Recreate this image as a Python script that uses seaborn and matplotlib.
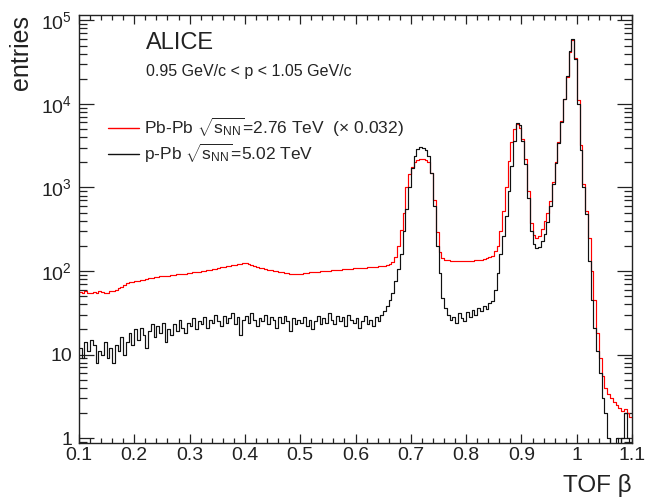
import numpy as np
import pandas as pd
import matplotlib
matplotlib.use("Agg")
import matplotlib.pyplot as plt
from matplotlib.ticker import MultipleLocator, FixedLocator, LogLocator, NullFormatter
import seaborn as sns

# --- data: TOF beta histogram, 200 bins of 0.005 between 0.1 and 1.1
beta_edges = np.linspace(0.1, 1.1, 201)
beta_centers = 0.5 * (beta_edges[:-1] + beta_edges[1:])

# Pb-Pb sqrt(sNN)=2.76 TeV, already scaled by 0.032
pbpb_scaled = [
    56, 55, 57, 55, 54, 56, 55, 57, 56, 54,
    55, 57, 58, 60, 62, 64, 68, 72, 74, 73,
    75, 76, 78, 79, 80, 82, 83, 84, 85, 86,
    87, 88, 88, 90, 89, 91, 92, 93, 93, 94,
    95, 96, 97, 98, 99, 100, 102, 103, 105, 107,
    109, 111, 112, 114, 115, 117, 118, 120, 121, 123,
    124, 121, 118, 115, 112, 110, 108, 106, 104, 102,
    100, 99, 97, 96, 95, 94, 93, 92, 91, 92,
    93, 94, 95, 96, 97, 98, 98, 99, 100, 101,
    101, 102, 103, 104, 104, 105, 106, 107, 107, 108,
    108, 109, 109, 110, 111, 111, 112, 113, 114, 115,
    116, 117, 120, 128, 147, 200, 310, 500, 1000, 1450,
    1750, 2000, 2150, 2200, 2200, 2150, 2000, 1500, 700, 290,
    170, 142, 136, 134, 133, 132, 132, 131, 131, 132,
    132, 133, 133, 134, 135, 137, 139, 142, 146, 152,
    175, 200, 300, 520, 1000, 2100, 3500, 5000, 5800, 5200,
    3800, 2200, 900, 380, 270, 250, 265, 320, 400, 500,
    680, 1150, 2000, 3500, 6200, 11500, 21000, 42000, 58000, 35000,
    11000, 3200, 1100, 520, 250, 100, 45, 18, 9, 5.5,
    4, 3.4, 3, 2.7, 2.5, 2.3, 2.1, 2.2, 2.0, 1.8,
]

# p-Pb sqrt(sNN)=5.02 TeV
ppb = [
    12, 9, 14, 11, 15, 13, 8, 11, 10, 14,
    9, 12, 8, 13, 11, 16, 10, 14, 18, 13,
    20, 15, 21, 17, 12, 19, 23, 16, 22, 18,
    24, 14, 20, 17, 23, 19, 26, 21, 18, 24,
    22, 27, 20, 25, 23, 28, 21, 26, 24, 30,
    25, 22, 29, 24, 27, 31, 23, 28, 17, 26,
    29, 24, 31, 26, 22, 27, 25, 30, 23, 28,
    26, 21, 28, 24, 29, 25, 19, 27, 23, 26,
    24, 28, 22, 26, 20, 25, 29, 23, 27, 24,
    31, 26, 23, 29, 25, 28, 22, 30, 26, 24,
    27, 21, 25, 29, 23, 26, 22, 28, 25, 30,
    33, 38, 45, 55, 75, 105, 160, 300, 550, 1000,
    1700, 2400, 2850, 3050, 3000, 2800, 2400, 1500, 600, 200,
    95, 48, 36, 30, 26, 28, 24, 31, 27, 25,
    32, 28, 34, 30, 36, 33, 38, 35, 41, 44,
    60, 95, 160, 260, 450, 900, 1800, 3600, 5900, 5600,
    3600, 1900, 750, 300, 210, 190, 195, 230, 280, 390,
    600, 1100, 1950, 3400, 6100, 11500, 21500, 43000, 59000, 34000,
    10000, 2800, 1000, 480, 130, 45, 21, 11, 6, 3,
    2, 1, 0, 0, 1, 0, 1, 2, 1, 0,
]

label_pbpb = r"Pb-Pb $\sqrt{\mathrm{s}_{\mathrm{NN}}}$=2.76 TeV  ($\times$ 0.032)"
label_ppb = r"p-Pb $\sqrt{\mathrm{s}_{\mathrm{NN}}}$=5.02 TeV"

y_ticks = [1, 10, 100, 1000, 10000, 100000]
y_ticklabels = ["1", "10", r"$10^{2}$", r"$10^{3}$", r"$10^{4}$", r"$10^{5}$"]
x_ticks = [0.1, 0.2, 0.3, 0.4, 0.5, 0.6, 0.7, 0.8, 0.9, 1.0, 1.1]
x_ticklabels = ["0.1", "0.2", "0.3", "0.4", "0.5", "0.6", "0.7", "0.8", "0.9", "1", "1.1"]

df = pd.DataFrame({"beta": beta_centers, "pbpb": pbpb_scaled, "ppb": ppb})

sns.set_theme(style="ticks")
plt.rcParams["font.family"] = ["Liberation Sans", "DejaVu Sans"]
plt.rcParams["mathtext.fontset"] = "custom"
plt.rcParams["mathtext.rm"] = "Liberation Sans"
plt.rcParams["mathtext.it"] = "Liberation Sans:italic"
plt.rcParams["mathtext.bf"] = "Liberation Sans:bold"

fig = plt.figure(figsize=(6.47, 4.99), dpi=100)
ax = fig.add_axes([0.122, 0.112, 0.855, 0.858])

sns.histplot(data=df, x="beta", weights="pbpb", bins=list(beta_edges),
             element="step", fill=False, color="#ff0000", linewidth=0.85,
             ax=ax, label=label_pbpb)
sns.histplot(data=df, x="beta", weights="ppb", bins=list(beta_edges),
             element="step", fill=False, color="#111111", linewidth=0.85,
             ax=ax, label=label_ppb)

ax.set_yscale("log")
ax.set_xlim(0.1, 1.1)
ax.set_ylim(0.87, 1.16e5)

# --- ticks, ROOT style
ax.xaxis.set_major_locator(FixedLocator(x_ticks))
ax.set_xticklabels(x_ticklabels)
ax.xaxis.set_minor_locator(MultipleLocator(0.02))
ax.yaxis.set_major_locator(FixedLocator(y_ticks))
ax.set_yticklabels(y_ticklabels)
ax.yaxis.set_minor_locator(LogLocator(base=10, subs=np.arange(2, 10)))
ax.yaxis.set_minor_formatter(NullFormatter())

ax.tick_params(which="both", direction="in", top=True, right=True,
               colors="#222222", labelsize=14, width=0.9)
ax.tick_params(axis="x", which="major", length=6.5, pad=3)
ax.tick_params(axis="x", which="minor", length=3.3)
ax.tick_params(axis="y", which="major", length=11, pad=5)
ax.tick_params(axis="y", which="minor", length=5.5)
for sp in ax.spines.values():
    sp.set_linewidth(1.0)
    sp.set_color("#222222")

ax.set_xlabel("TOF β", loc="right", fontsize=17.5, labelpad=7, color="#222222")
ax.set_ylabel("entries", loc="top", fontsize=18, labelpad=6, color="#222222")

ax.text(0.121, 0.92, "ALICE", transform=ax.transAxes, fontsize=17,
        color="#222222", va="baseline")
ax.text(0.121, 0.858, "0.95 GeV/c < p < 1.05 GeV/c", transform=ax.transAxes,
        fontsize=11.5, color="#222222", va="baseline")

leg = ax.legend(loc="upper left", bbox_to_anchor=(0.04, 0.78), frameon=False,
                fontsize=12.5, handlelength=1.8, handletextpad=0.25,
                labelspacing=0.15, borderaxespad=0)
for line in leg.get_lines():
    line.set_linewidth(1.0)

fig.savefig("out.png", dpi=100)
